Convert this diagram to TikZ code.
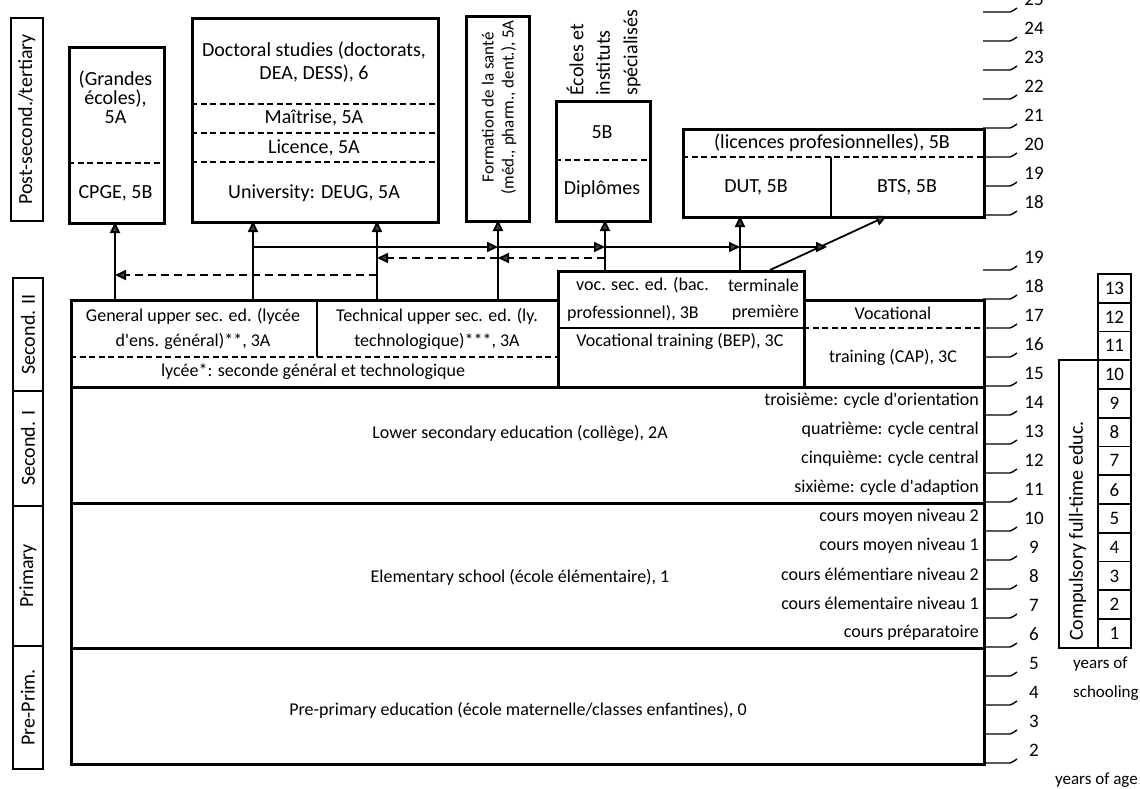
\documentclass[tikz,border=0pt]{standalone}
\usepackage{fontspec}
\setmainfont{Carlito}
\usetikzlibrary{arrows.meta}
\tikzset{
  bx/.style={draw, line width=2.8pt, anchor=north west, inner sep=0pt},
  lb/.style={draw, line width=1.8pt, anchor=north west, inner sep=0pt},
  sb/.style={draw, line width=1.8pt, anchor=north west, inner sep=0pt, minimum width=33pt, minimum height=28.77pt, font=\fontsize{19}{22}\selectfont},
  dsh/.style={line width=1.5pt, dash pattern=on 6pt off 3.5pt},
  arr/.style={line width=1.8pt, -{Triangle[length=11pt,width=10pt,fill=black!75]}},
  darr/.style={line width=1.8pt, dash pattern=on 8pt off 5pt, -{Triangle[length=11pt,width=10pt,fill=black!75]}},
  sep/.style={line width=2.8pt},
  tk/.style={line width=1.4pt},
  t/.style={font=\fontsize{18}{21}\selectfont, inner sep=0pt},
  tl/.style={font=\fontsize{20}{23}\selectfont, inner sep=0pt},
  tm/.style={font=\fontsize{18}{21}\selectfont, inner sep=0pt},
  ts/.style={font=\fontsize{17}{20}\selectfont, inner sep=0pt},
  num/.style={font=\fontsize{19}{22}\selectfont, inner sep=0pt}
}
\begin{document}
\begin{tikzpicture}[x=1pt,y=-1pt]
\useasboundingbox (0,0) rectangle (1140,789);

% ---------- level labels ----------
\node[lb, minimum width=32pt, minimum height=203pt] (postlab) at (10,17) {};
\node[tl, rotate=90] at (postlab.center) {Post-second./tertiary};
\node[lb, minimum width=30pt, minimum height=113pt] (sec2lab) at (12,277) {};
\node[tl, rotate=90] at (sec2lab.center) {Second. II};
\node[lb, minimum width=30pt, minimum height=115pt] (sec1lab) at (12,390) {};
\node[tl, rotate=90] at (sec1lab.center) {Second. I};
\node[lb, minimum width=30pt, minimum height=140pt] (primlab) at (12,505) {};
\node[tl, rotate=90] at (primlab.center) {Primary};
\node[lb, minimum width=30pt, minimum height=123pt] (prelab) at (12,645) {};
\node[tl, rotate=90] at (prelab.center) {Pre-Prim.};

% ---------- tertiary boxes ----------
\node[bx, minimum width=95pt, minimum height=176pt] (cpge) at (68,46) {};
\draw[dsh] (68,163) -- (163,163);
\node[tl, align=center, font=\fontsize{20}{19}\selectfont] at (115.5,97) {(Grandes\\écoles),\\5A};
\node[tl] at (115.5,193) {CPGE, 5B};

\node[bx, minimum width=246pt, minimum height=204pt] (doc) at (191,17) {};
\draw[dsh] (191,104) -- (437,104);
\draw[dsh] (191,133) -- (437,133);
\draw[dsh] (191,162) -- (437,162);
\node[tl, align=center] at (314,62) {Doctoral studies (doctorats,\\DEA, DESS), 6};
\node[tl] at (314,118) {Maîtrise, 5A};
\node[tl] at (314,148) {Licence, 5A};
\node[tl] at (314,193) {University: DEUG, 5A};

\node[bx, minimum width=63pt, minimum height=205pt] (form) at (465,15) {};
\node[t, rotate=90, anchor=east, align=center, font=\fontsize{17}{20}\selectfont] at (499,20) {Formation de la santé\\(méd., pharm., dent.), 5A};

\node[bx, minimum width=94pt, minimum height=120pt] (ecol) at (555,100) {};
\draw[dsh] (555,160) -- (649,160);
\node[tl] at (602,132) {5B};
\node[tl] at (602,189) {Diplômes};
\node[tl, rotate=90, anchor=west] (ec1) at (575,96) {Écoles et};
\node[tl, rotate=90, anchor=west] (ec2) at (603,96) {instituts};
\node[tl, rotate=90, anchor=west] (ec3) at (632,96) {spécialisés};

\node[bx, minimum width=301pt, minimum height=88pt] (lic) at (682,128) {};
\draw[dsh] (682,157) -- (983,157);
\draw[sep] (831,157) -- (831,216);
\node[tl] at (832,143) {(licences profesionnelles), 5B};
\node[tl] at (756,187) {DUT, 5B};
\node[tl] at (907,187) {BTS, 5B};

% ---------- upper secondary ----------
\node[bx, minimum width=487pt, minimum height=87pt] (lyc) at (70,299) {};
\draw[sep] (317,299) -- (317,357);
\draw[dsh] (70,357) -- (557,357);
\node[tm, align=center, font=\fontsize{18}{25}\selectfont] at (193,329) {General upper sec. ed. (lycée\\d\textquotesingle ens. général)**, 3A};
\node[tm, align=center, font=\fontsize{18}{25}\selectfont] at (437,329) {Technical upper sec. ed. (ly.\\technologique)***, 3A};
\node[tm] at (313,372) {lycée*: seconde général et technologique};

\node[bx, minimum width=246pt, minimum height=116pt] (voc) at (557,270) {};
\draw[sep] (557,328) -- (803,328);
\node[tm, anchor=west] at (576,285) {voc. sec. ed. (bac.};
\node[tm, anchor=east] at (799,285) {terminale};
\node[tm, anchor=west] at (567,313) {professionnel), 3B};
\node[tm, anchor=east] at (799,313) {première};
\node[tm] at (680,341) {Vocational training (BEP), 3C};

\node[bx, minimum width=180pt, minimum height=87pt] (cap) at (803,299) {};
\draw[dsh] (803,328) -- (983,328);
\node[tm] at (893,313) {Vocational};
\node[tm] at (893,357) {training (CAP), 3C};

% ---------- lower levels ----------
\node[bx, minimum width=913pt, minimum height=116pt] (low) at (70,386) {};
\node[t] at (520,433) {Lower secondary education (collège), 2A};
\node[tm, anchor=east] at (979,400.5) {troisième: cycle d\textquotesingle orientation};
\node[tm, anchor=east] at (979,429.5) {quatrième: cycle central};
\node[tm, anchor=east] at (979,458.5) {cinquième: cycle central};
\node[tm, anchor=east] at (979,487.5) {sixième: cycle d\textquotesingle adaption};

\node[bx, minimum width=913pt, minimum height=145pt] (elem) at (70,502) {};
\node[t] at (520,577) {Elementary school (école élémentaire), 1};
\node[tm, anchor=east] at (979,516.5) {cours moyen niveau 2};
\node[tm, anchor=east] at (979,545.5) {cours moyen niveau 1};
\node[tm, anchor=east] at (979,574.5) {cours élémentiare niveau 2};
\node[tm, anchor=east] at (979,603.5) {cours élementaire niveau 1};
\node[tm, anchor=east] at (979,632.5) {cours préparatoire};

\node[bx, minimum width=913pt, minimum height=116pt] (pre) at (70,647) {};
\node[t] at (518,710) {Pre-primary education (école maternelle/classes enfantines), 0};

% ---------- connectors ----------
\coordinate (a1) at (115,299);   \coordinate (b1) at (115,222);
\coordinate (a2) at (253,299);   \coordinate (b2) at (253,221);
\coordinate (a3) at (377,299);   \coordinate (b3) at (377,221);
\coordinate (a4) at (498,299);   \coordinate (b4) at (498,220);
\coordinate (a5) at (605,270);   \coordinate (b5) at (605,220);
\coordinate (a6) at (740,270);   \coordinate (b6) at (740,216);
\coordinate (a7) at (770,270);   \coordinate (b7) at (887,216);
\draw[arr] (a1) -- (b1);
\draw[arr] (a2) -- (b2);
\draw[arr] (a3) -- (b3);
\draw[arr] (a4) -- (b4);
\draw[arr] (a5) -- (b5);
\draw[arr] (a6) -- (b6);
\draw[arr] (a7) -- (b7);

\coordinate (h0) at (253,247); \coordinate (h1) at (498,247);
\coordinate (h2) at (605,247); \coordinate (h3) at (740,247);
\coordinate (h4) at (827,247);
\draw[arr] (h0) -- (h1);
\draw[arr] (h1) -- (h2);
\draw[arr] (h2) -- (h3);
\draw[arr] (h3) -- (h4);

\coordinate (d0) at (605,258); \coordinate (d1) at (498,258);
\coordinate (d2) at (377,258);
\draw[darr] (d0) -- (d1);
\draw[darr] (d1) -- (d2);
\coordinate (e0) at (377,275); \coordinate (e1) at (115,275);
\draw[darr] (e0) -- (e1);

% ---------- age scales ----------
\foreach \a in {2,...,19} {
  \pgfmathsetmacro\yy{763-(\a-2)*29}
  \draw[tk] (983,\yy) -- (1010,\yy) .. controls (1013,\yy) and (1014,\yy-3) .. (1017,\yy-4);
  \node[num] at (1034,\yy-13) {\a};
}
\foreach \a in {18,...,25} {
  \pgfmathsetmacro\yy{215-(\a-18)*29}
  \draw[tk] (983,\yy) -- (1010,\yy) .. controls (1013,\yy) and (1014,\yy-3) .. (1017,\yy-4);
  \node[num] at (1034,\yy-13) {\a};
}

% ---------- years of schooling ----------
\node[lb, minimum width=39pt, minimum height=288pt] (comp) at (1058,359) {};
\node[tl, rotate=90, anchor=west] at (1077.5,641) {Compulsory full-time educ.};
\foreach \k in {1,...,13} {
  \node[sb] (s\k) at (1097,{647-28.77*\k}) {\k};
}
\node[ts, anchor=west] at (1073,664) {years of};
\node[ts, anchor=west] at (1073,693) {schooling};
\node[ts, anchor=east] at (1138,780) {years of age};
\end{tikzpicture}
\end{document}
